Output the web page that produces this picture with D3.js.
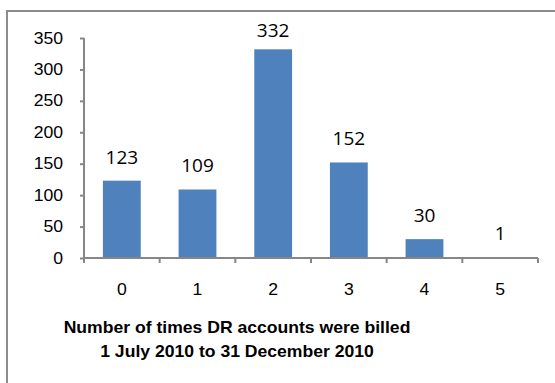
<!DOCTYPE html>
<html>
<head>
<meta charset="utf-8">
<script src="https://cdn.jsdelivr.net/npm/d3@7"></script>
<style>
  html, body { margin: 0; padding: 0; background: #fff; }
  svg { display: block; }
</style>
</head>
<body>
<svg id="chart" width="555" height="383"></svg>
<script>
// Billing frequency counts
const categories = ["0", "1", "2", "3", "4", "5"];
const counts = [123, 109, 332, 152, 30, 1];
const yTicks = [0, 50, 100, 150, 200, 250, 300, 350];
const titleLines = ["Number of times DR accounts were billed", "1 July 2010 to 31 December 2010"];

const svg = d3.select("#chart");
const W = 555, H = 383;
const widen = 1.1; // horizontal widening applied to axis text

// outer frame (runs past the right and bottom edges)
svg.append("rect")
  .attr("x", 7).attr("y", 11)
  .attr("width", W).attr("height", H)
  .attr("fill", "#fff")
  .attr("stroke", "#8c8c8c").attr("stroke-width", 2);

const plot = { left: 84, right: 538, top: 38, bottom: 258 };

const x = d3.scaleBand().domain(categories).range([plot.left, plot.right]).paddingInner(0.5).paddingOuter(0.25);
const y = d3.scaleLinear().domain([0, 350]).range([plot.bottom, plot.top]);

const axisColor = "#868686";
const tickFont = "'Liberation Sans', Arial, sans-serif";

// bars
svg.append("g").selectAll("rect")
  .data(counts)
  .join("rect")
  .attr("x", (d, i) => x(categories[i]))
  .attr("y", d => y(d))
  .attr("width", x.bandwidth())
  .attr("height", d => y(0) - y(d))
  .attr("fill", "#4F81BD");

// value labels
svg.append("g").selectAll("text")
  .data(counts)
  .join("text")
  .attr("x", (d, i) => x(categories[i]) + x.bandwidth() / 2)
  .attr("y", d => Math.max(y(d) - 17, 37))
  .attr("text-anchor", "middle")
  .attr("font-family", "'Open Sans', sans-serif")
  .attr("font-size", 19)
  .attr("fill", "#000")
  .text(d => d);

// y axis
const yAxis = svg.append("g")
  .attr("transform", `translate(${plot.left},0)`)
  .call(d3.axisLeft(y).tickValues(yTicks).tickSize(4).tickPadding(17).tickSizeOuter(0));
yAxis.select(".domain").attr("stroke", axisColor).attr("stroke-width", 2)
  .attr("d", `M0,${plot.top}V${plot.bottom}`);
yAxis.selectAll(".tick line").attr("stroke", axisColor).attr("stroke-width", 2);
yAxis.selectAll(".tick text")
  .attr("x", null)
  .attr("transform", `translate(-21,0) scale(${widen},1)`)
  .attr("font-family", tickFont).attr("font-size", 16).attr("fill", "#000");

// x axis with boundary ticks between categories
const xStep = (plot.right - plot.left) / categories.length;
const xg = svg.append("g").attr("transform", `translate(0,${plot.bottom})`);
xg.append("line")
  .attr("x1", plot.left).attr("x2", plot.right)
  .attr("stroke", axisColor).attr("stroke-width", 2);
xg.selectAll("line.tk")
  .data(d3.range(categories.length + 1))
  .join("line").attr("class", "tk")
  .attr("x1", i => plot.left + i * xStep).attr("x2", i => plot.left + i * xStep)
  .attr("y1", 0).attr("y2", 5)
  .attr("stroke", axisColor).attr("stroke-width", 2);
xg.selectAll("text")
  .data(categories)
  .join("text")
  .attr("transform", d => `translate(${x(d) + x.bandwidth() / 2},37) scale(${widen},1)`)
  .attr("text-anchor", "middle")
  .attr("font-family", tickFont).attr("font-size", 16).attr("fill", "#000")
  .text(d => d);

// axis title
svg.append("g").selectAll("text")
  .data(titleLines)
  .join("text")
  .attr("transform", (d, i) => `translate(237,${333 + i * 23.5}) scale(${widen},1)`)
  .attr("text-anchor", "middle")
  .attr("font-family", tickFont).attr("font-weight", "bold").attr("font-size", 16)
  .attr("fill", "#000")
  .text(d => d);
</script>
</body>
</html>
